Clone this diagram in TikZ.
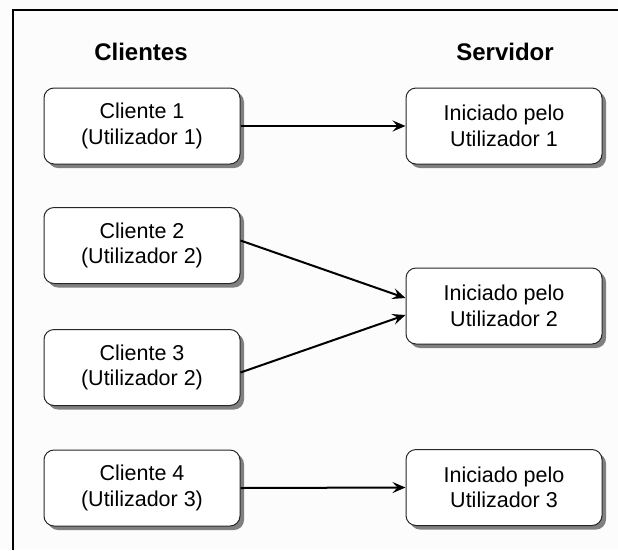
\documentclass[tikz,border=0pt]{standalone}
\usepackage{fontspec}
\setmainfont{Liberation Sans}
\usetikzlibrary{shadows,arrows.meta}
\definecolor{fundo}{HTML}{FCFCFC}

\begin{document}
\begin{tikzpicture}[x=1pt,y=-1pt,
  caixa/.style={draw=black!85, fill=white, line width=1pt, rounded corners=10pt,
    minimum width=196pt, minimum height=76pt, align=center, inner sep=0pt,
    font=\fontsize{21.5}{25.5}\selectfont,
    drop shadow={shadow xshift=4pt, shadow yshift=-4pt, fill=black!50, opacity=1}},
  titulo/.style={font=\fontsize{24}{28}\selectfont\bfseries},
  seta/.style={-{Stealth[length=13pt,width=11pt,inset=5pt]}, line width=2pt}
]
% ---- page and frame ----
\fill[fundo] (0,0) rectangle (618,550);
\useasboundingbox (0,0) rectangle (618,550);
\draw[line width=2pt] (12.5,550) -- (12.5,9.5) -- (618,9.5);

% ===== HEADINGS =====
\node[titulo] (tcli) at (141,52) {Clientes};
\node[titulo] (tsrv) at (505,52) {Servidor};

% ===== CLIENTS =====
\node[caixa] (cli1) at (142,126)   {Cliente 1\\(Utilizador 1)};
\node[caixa] (cli2) at (142,245.5) {Cliente 2\\(Utilizador 2)};
\node[caixa] (cli3) at (142,367.5) {Cliente 3\\(Utilizador 2)};
\node[caixa] (cli4) at (142,488)   {Cliente 4\\(Utilizador 3)};

% ===== SERVER =====
\node[caixa] (srv1) at (504,126)   {Iniciado pelo\\Utilizador 1};
\node[caixa] (srv2) at (504,306)   {Iniciado pelo\\Utilizador 2};
\node[caixa] (srv3) at (504,487.5) {Iniciado pelo\\Utilizador 3};

% ===== ARROWS =====
\draw[seta] (cli1.east) -- (srv1.west);
\draw[seta] ([yshift=5pt]cli2.east) -- ([yshift=8pt]srv2.west);
\draw[seta] ([yshift=-5pt]cli3.east) -- ([yshift=-9pt]srv2.west);
\draw[seta] (cli4.east) -- (srv3.west);

\end{tikzpicture}
\end{document}
